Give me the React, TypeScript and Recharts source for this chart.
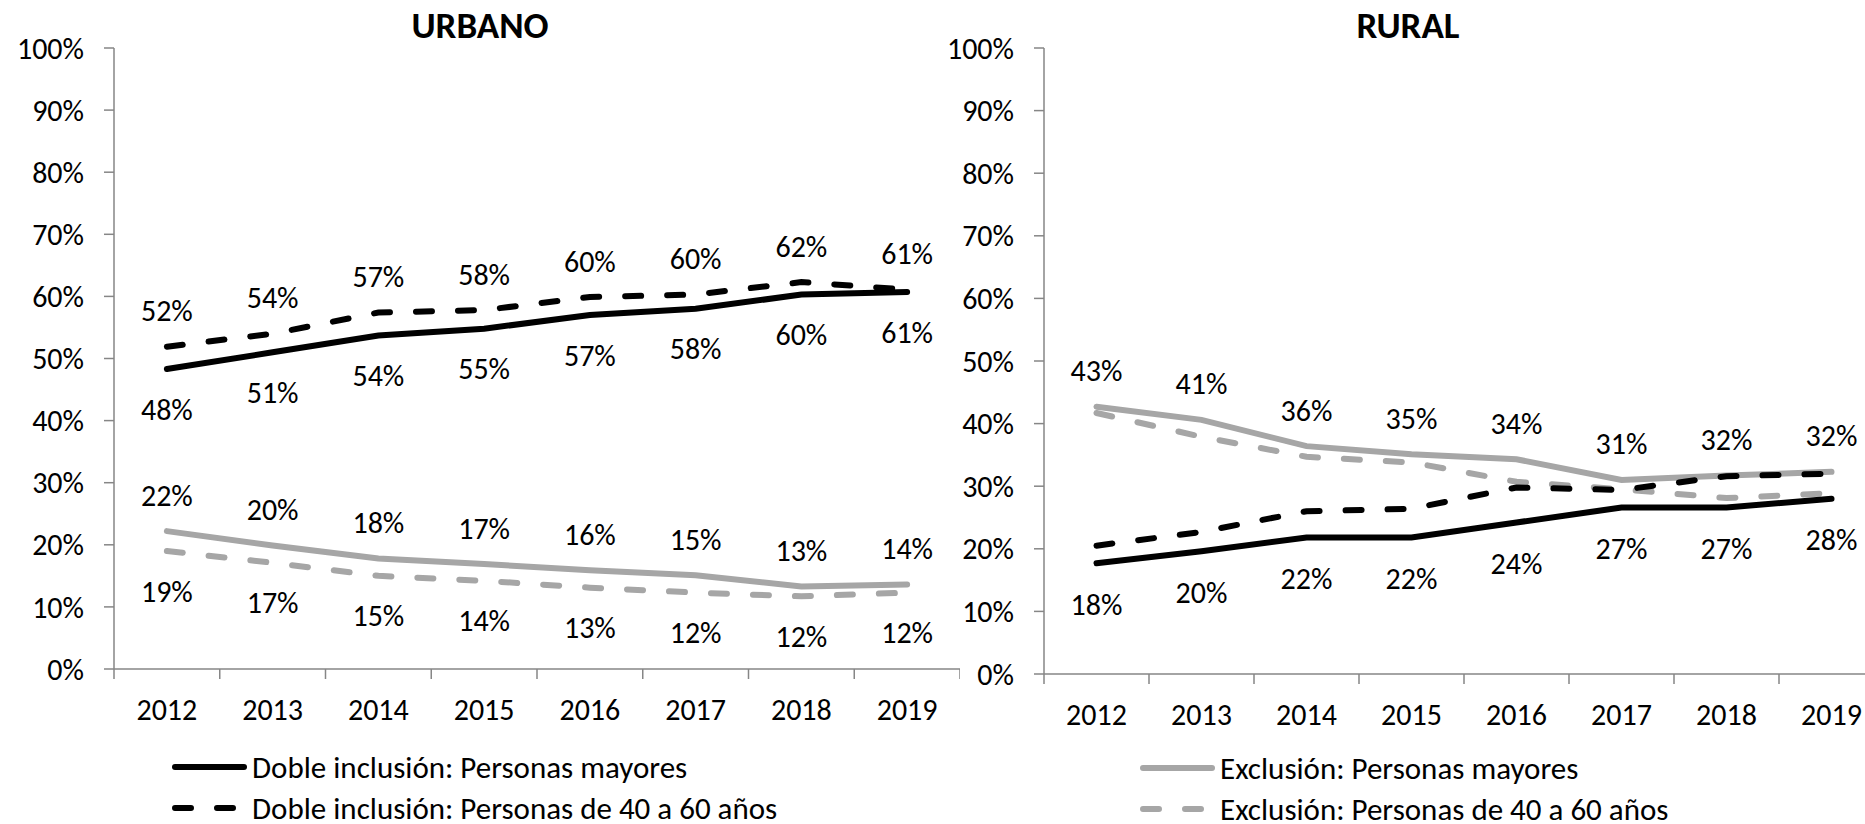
import React from 'react';
import { LineChart, Line, XAxis, YAxis, LabelList } from 'recharts';

const years = ['2012', '2013', '2014', '2015', '2016', '2017', '2018', '2019'];

// URBANO
const urbDobleMayores = [48.3, 51.0, 53.7, 54.8, 57.0, 58.0, 60.3, 60.7];
const urbDoble4060 = [51.9, 54.0, 57.4, 57.8, 59.9, 60.3, 62.3, 61.1];
const urbExclMayores = [22.2, 19.9, 17.8, 16.9, 15.9, 15.1, 13.3, 13.6];
const urbExcl4060 = [19.0, 17.1, 15.0, 14.2, 13.1, 12.3, 11.7, 12.3];

// RURAL
const rurDobleMayores = [17.7, 19.6, 21.8, 21.8, 24.2, 26.6, 26.6, 28.0];
const rurDoble4060 = [20.5, 22.7, 26.0, 26.4, 29.8, 29.4, 31.6, 32.0];
const rurExclMayores = [42.7, 40.6, 36.4, 35.1, 34.3, 31.0, 31.7, 32.3];
const rurExcl4060 = [41.7, 37.9, 34.7, 33.8, 30.7, 29.5, 28.1, 28.9];

const pctTicks = [0, 10, 20, 30, 40, 50, 60, 70, 80, 90, 100];
const posTicks = [0, 1, 2, 3, 4, 5, 6, 7, 8];

const FONT = "Carlito, 'Liberation Sans', Arial, sans-serif";
const FS = 30;
const AXIS = '#868686';
const GRAY = '#A6A6A6';
const DASH = '16 26';

const buildRows = (dm: number[], d4: number[], em: number[], e4: number[]) =>
  years.map((year, i) => ({ pos: i + 0.5, year, dm: dm[i], d4: d4[i], em: em[i], e4: e4[i] }));

const urbanRows = buildRows(urbDobleMayores, urbDoble4060, urbExclMayores, urbExcl4060);
const ruralRows = buildRows(rurDobleMayores, rurDoble4060, rurExclMayores, rurExcl4060);

const pctLabel = (dy: number) => (props: any) => {
  const x = props.x ?? props.viewBox?.x;
  const y = props.y ?? props.viewBox?.y;
  if (x == null || y == null) return null;
  return (
    <text x={x} y={y + dy} textAnchor="middle" dominantBaseline="central" fontSize={FS} fontFamily={FONT} fill="#000">
      {Math.round(Number(props.value))}%
    </text>
  );
};

const yearTick = (step: number) => (props: any) => {
  const { x, y, payload } = props;
  const label = years[payload.value];
  if (!label) return <g />;
  return (
    <text x={x + step / 2} y={y} dy="0.71em" textAnchor="middle" fontSize={FS} fontFamily={FONT} fill="#000">
      {label}
    </text>
  );
};

interface PanelProps {
  rows: any[];
  width: number;
  bottom: number;
  labelled: { key: string; dy: number }[];
}

const YAXIS_W = 114;

const Panel: React.FC<PanelProps> = ({ rows, width, bottom, labelled }) => {
  const step = (width - YAXIS_W) / years.length;
  const dyFor = (key: string) => labelled.find((l) => l.key === key)?.dy;
  const series = [
    { key: 'em', color: GRAY, dash: undefined },
    { key: 'e4', color: GRAY, dash: DASH },
    { key: 'dm', color: '#000', dash: undefined },
    { key: 'd4', color: '#000', dash: DASH },
  ];
  return (
    <LineChart width={width} height={760} data={rows} margin={{ top: 48, right: 0, bottom, left: 0 }}>
      <XAxis
        type="number"
        dataKey="pos"
        domain={[0, 8]}
        ticks={posTicks}
        interval={0}
        height={60}
        tickSize={10}
        tickMargin={20}
        axisLine={{ stroke: AXIS, strokeWidth: 1.5 }}
        tickLine={{ stroke: AXIS, strokeWidth: 1.5 }}
        tick={yearTick(step)}
      />
      <YAxis
        type="number"
        domain={[0, 100]}
        ticks={pctTicks}
        interval={0}
        width={YAXIS_W}
        tickSize={10}
        tickMargin={20}
        tickFormatter={(v: number) => `${v}%`}
        axisLine={{ stroke: AXIS, strokeWidth: 1.5 }}
        tickLine={{ stroke: AXIS, strokeWidth: 1.5 }}
        tick={{ fill: '#000', fontSize: FS, fontFamily: FONT }}
      />
      {series.map((s) => {
        const dy = dyFor(s.key);
        return (
          <Line
            key={s.key}
            type="linear"
            dataKey={s.key}
            stroke={s.color}
            strokeWidth={6}
            strokeDasharray={s.dash}
            strokeLinecap="round"
            dot={false}
            activeDot={false}
            isAnimationActive={false}
          >
            {dy !== undefined && <LabelList dataKey={s.key} content={pctLabel(dy)} />}
          </Line>
        );
      })}
    </LineChart>
  );
};

const LegendRow: React.FC<{ top: number; left: number; color: string; dash?: string; text: string }> = ({ top, left, color, dash, text }) => (
  <div style={{ position: 'absolute', top: top - 20, left, height: 40, display: 'flex', alignItems: 'center' }}>
    <svg width={80} height={40}>
      <line x1={3} y1={20} x2={72} y2={20} stroke={color} strokeWidth={6} strokeDasharray={dash} strokeLinecap="round" />
    </svg>
    <span style={{ fontSize: 31, lineHeight: '40px', fontFamily: FONT, color: '#000', whiteSpace: 'nowrap' }}>{text}</span>
  </div>
);

const Title: React.FC<{ cx: number; text: string }> = ({ cx, text }) => (
  <div
    style={{
      position: 'absolute',
      top: 6,
      left: cx - 200,
      width: 400,
      textAlign: 'center',
      fontSize: 37,
      lineHeight: '40px',
      fontWeight: 'bold',
      fontFamily: FONT,
      color: '#000',
    }}
  >
    {text}
  </div>
);

export default function App() {
  return (
    <div style={{ position: 'fixed', left: 0, top: 0, width: 1865, height: 824, overflow: 'hidden', background: '#fff' }}>
      <Title cx={480} text="URBANO" />
      <Title cx={1408} text="RURAL" />
      <div style={{ position: 'absolute', left: 0, top: 0 }}>
        <Panel
          rows={urbanRows}
          width={960}
          bottom={31}
          labelled={[
            { key: 'dm', dy: 40 },
            { key: 'd4', dy: -36 },
            { key: 'em', dy: -36 },
            { key: 'e4', dy: 40 },
          ]}
        />
      </div>
      <div style={{ position: 'absolute', left: 930, top: 0 }}>
        <Panel
          rows={ruralRows}
          width={954}
          bottom={26}
          labelled={[
            { key: 'em', dy: -36 },
            { key: 'dm', dy: 41 },
          ]}
        />
      </div>
      <LegendRow top={767} left={172} color="#000" text="Doble inclusión: Personas mayores" />
      <LegendRow top={808} left={172} color="#000" dash={DASH} text="Doble inclusión: Personas de 40 a 60 años" />
      <LegendRow top={768} left={1140} color={GRAY} text="Exclusión: Personas mayores" />
      <LegendRow top={809} left={1140} color={GRAY} dash={DASH} text="Exclusión: Personas de 40 a 60 años" />
    </div>
  );
}
